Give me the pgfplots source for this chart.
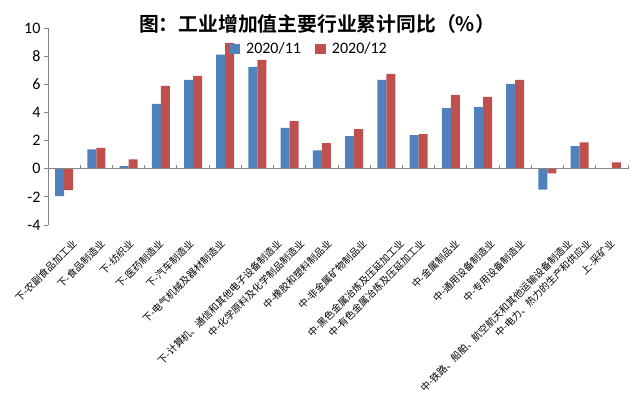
\documentclass[border=0pt]{standalone}
\usepackage{pgfplots}
\pgfplotsset{compat=1.18}
\usepackage{fontspec}
\setmainfont{Carlito}
\newfontfamily\cjk{Noto Sans CJK SC}
\newfontfamily\cjkb{Noto Sans CJK SC Bold}
\definecolor{cblue}{HTML}{4F81BD}
\definecolor{cred}{HTML}{C0504D}
\definecolor{axgray}{HTML}{868686}
\begin{document}
\begin{tikzpicture}[x=1pt,y=1pt]
\begin{axis}[
  at={(48pt,173pt)}, anchor=south west,
  scale only axis, width=580pt, height=197pt,
  xmin=0.5, xmax=18.5, ymin=-4, ymax=10,
  ybar=0pt, bar width=9pt,
  axis y line*=left, axis x line*=bottom,
  x axis line style={draw=none},
  y axis line style={draw=axgray, line width=0.8pt, -},
  ytick={-4,-2,0,2,4,6,8,10},
  ytick style={draw=axgray, line width=0.8pt},
  tick align=outside, major tick length=4pt,
  /pgf/number format/assume math mode=true,
  yticklabel style={font=\fontsize{16}{16}\selectfont},
  xtick={1.356,2.233,3.124,4.047,4.985,5.954,7.714,8.419,9.264,10.357,11.512,12.155,13.233,14.326,15.264,16.729,17.326,18.047},
  xtick style={draw=none},
  xticklabels={
    下-农副食品加工业,
    下-食品制造业,
    下-纺织业,
    下-医药制造业,
    下-汽车制造业,
    下-电气机械及器材制造业,
    {下-计算机、通信和其他电子设备制造业},
    中-化学原料及化学制品制造业,
    中-橡胶和塑料制品业,
    中-非金属矿物制品业,
    中-黑色金属冶炼及压延加工业,
    中-有色金属冶炼及压延加工业,
    中-金属制品业,
    中-通用设备制造业,
    中-专用设备制造业,
    {中-铁路、船舶、航空航天和其他运输设备制造业},
    {中-电力、热力的生产和供应业},
    上-采矿业},
  xticklabel style={yshift=-12.5pt, font=\cjk\fontsize{9.8}{9.8}\selectfont, rotate=45, anchor=east, inner sep=1pt},
  legend columns=2,
  legend style={draw=none, fill=none, at={(0.45,0.893)}, anchor=center,
    font=\fontsize{16}{16}\selectfont,
    /tikz/every odd column/.append style={column sep=4pt},
    /tikz/every even column/.append style={column sep=12pt}},
  legend image code/.code={\fill[#1] (0pt,-5pt) rectangle (11pt,5pt);},
  clip=false,
]
\addplot[fill=cblue, draw=none] coordinates {
 (1,-1.95) (2,1.38) (3,0.19) (4,4.6) (5,6.31) (6,8.1) (7,7.24) (8,2.9) (9,1.31)
 (10,2.31) (11,6.31) (12,2.38) (13,4.31) (14,4.38) (15,6.02) (16,-1.48) (17,1.6) (18,0)};
\addplot[fill=cred, draw=none] coordinates {
 (1,-1.52) (2,1.48) (3,0.67) (4,5.88) (5,6.6) (6,8.95) (7,7.74) (8,3.38) (9,1.81)
 (10,2.81) (11,6.74) (12,2.45) (13,5.24) (14,5.1) (15,6.31) (16,-0.33) (17,1.88) (18,0.45)};
\legend{2020/11,2020/12}
\draw[axgray, line width=0.8pt] (axis cs:0.5,0) -- (axis cs:18.5,0);
\pgfplotsinvokeforeach{1.5,2.5,3.5,4.5,5.5,6.5,7.5,8.5,9.5,10.5,11.5,12.5,13.5,14.5,15.5,16.5,17.5,18.5}{
  \draw[axgray, line width=0.8pt] (axis cs:#1,0) -- ++(0pt,4pt);
}
\end{axis}
\node[font=\cjkb\fontsize{19.8}{19.8}\selectfont, anchor=center] at (317pt,374pt) {图：工业增加值主要行业累计同比（\%）};
\pgfresetboundingbox
\path[use as bounding box] (0pt,0pt) rectangle (638pt,398pt);
\end{tikzpicture}
\end{document}
